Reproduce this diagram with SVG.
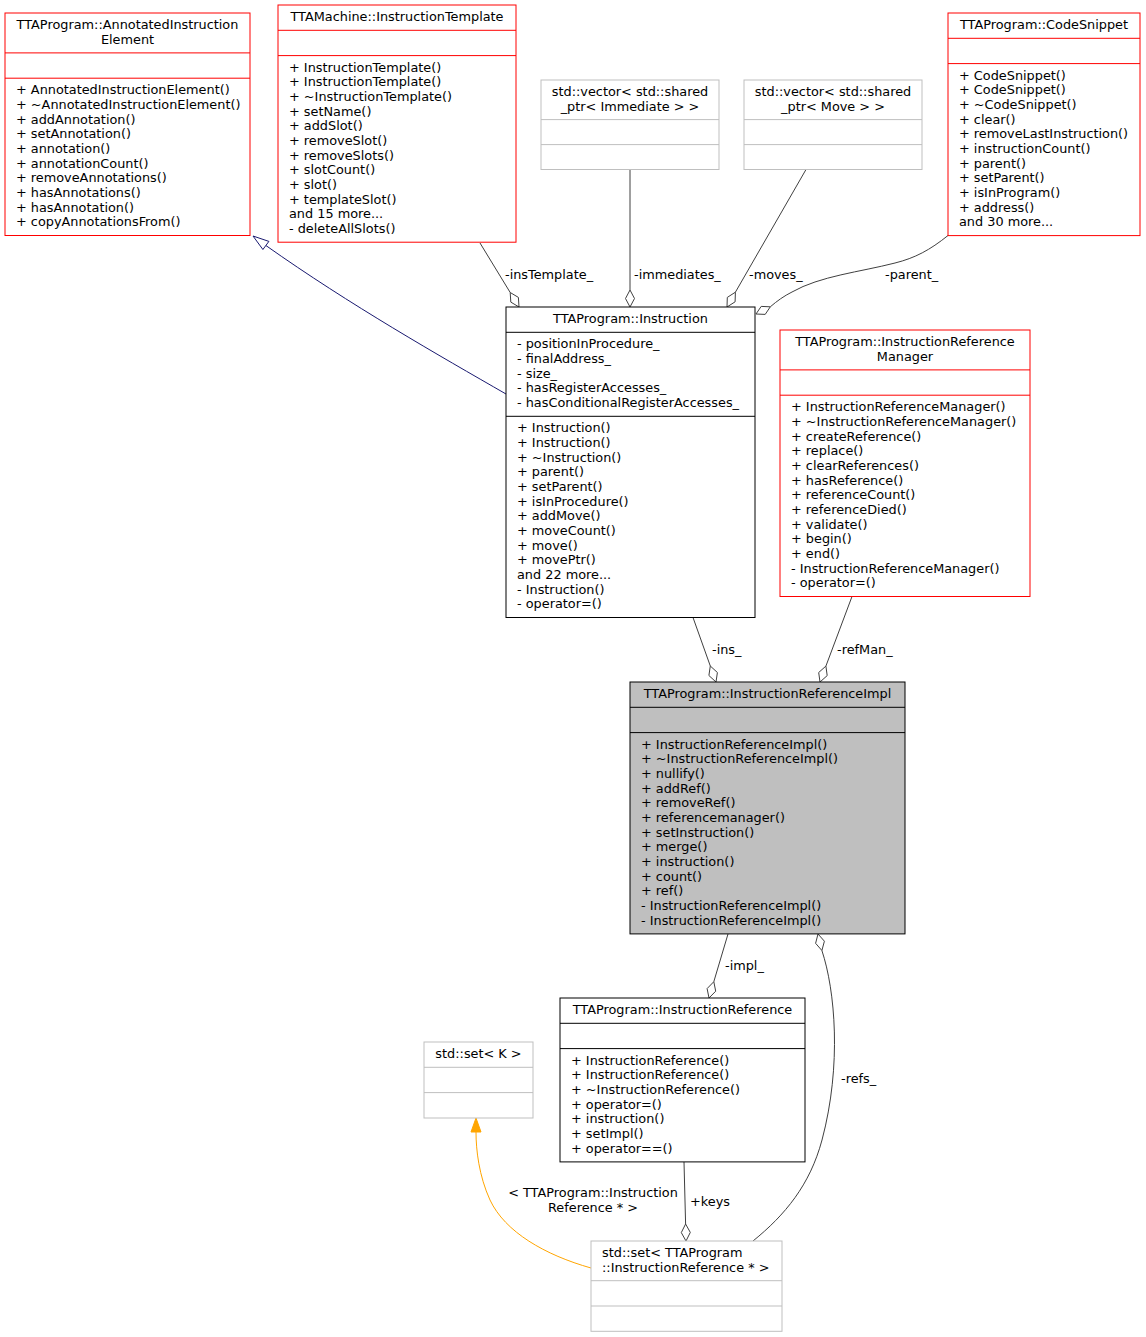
<svg xmlns="http://www.w3.org/2000/svg" width="1146" height="1337" viewBox="0 0 1146 1337">
<style>
text{font-family:"DejaVu Sans","Liberation Sans",sans-serif;font-size:12.85px;fill:#000}
.c{text-anchor:middle}
.box{fill:#fff;stroke-width:1}
.red{stroke:#ff0000}
.blk{stroke:#000}
.gry{stroke:#bfbfbf}
.sel{fill:#bfbfbf;stroke:#000}
.e{fill:none;stroke:#404040;stroke-width:1}
.dia{fill:#fff;stroke:#404040;stroke-width:1}
.lbl{font-size:12.85px}
</style>
<rect width="1146" height="1337" fill="#fff"/>
<g id="connectors">
  <!-- inheritance -->
  <path d="M506,394 C440,356 350,305 265.9,245.5" fill="none" stroke="#191970"/>
  <polygon points="253,236 268.9,241.4 262.9,249.5" fill="#fff" stroke="#191970"/>
  <!-- insTemplate_ -->
  <path class="e" d="M480,243 L510.2,292.5"/>
  <polygon class="dia" points="519,307 510.8,302.1 510.2,292.5 518.4,297.4"/>
  <text x="505" y="278.6">-insTemplate_</text>
  <!-- immediates_ -->
  <path class="e" d="M630,169.5 L630,290"/>
  <polygon class="dia" points="630,307 625.5,298.5 630,290 634.5,298.5"/>
  <text x="634" y="278.6">-immediates_</text>
  <!-- moves_ -->
  <path class="e" d="M806,169.5 L735.4,292.2"/>
  <polygon class="dia" points="727,307 727.3,297.4 735.4,292.2 735.1,301.8"/>
  <text x="749" y="278.6">-moves_</text>
  <!-- parent_ -->
  <path class="e" d="M948,235.5 C930,250 915,258 895,263 C860,272 820,276 792,292 C784,296 777,301 770.3,306.8"/>
  <polygon class="dia" points="756,314 761.2,306.4 770.3,306.8 765.2,314.4"/>
  <text x="885" y="278.6">-parent_</text>
  <!-- ins_ -->
  <path class="e" d="M693,617.5 L710.3,666"/>
  <polygon class="dia" points="716,682 708.9,675.5 710.3,666 717.4,672.5"/>
  <text x="712" y="653.6">-ins_</text>
  <!-- refMan_ -->
  <path class="e" d="M852,596.5 L825.9,666.1"/>
  <polygon class="dia" points="820,682 818.7,672.5 825.9,666.1 827.2,675.6"/>
  <text x="837" y="653.6">-refMan_</text>
  <!-- impl_ -->
  <path class="e" d="M728,934 L713.8,981.7"/>
  <polygon class="dia" points="709,998 707.1,988.6 713.8,981.7 715.7,991.2"/>
  <text x="725" y="969.6">-impl_</text>
  <!-- refs_ -->
  <path class="e" d="M753,1241 C785,1215 810,1185 822,1140 C842,1065 835,990 821.9,950.5"/>
  <polygon class="dia" points="818,934 824.4,941.2 821.9,950.5 815.6,943.3"/>
  <text x="841" y="1082.6">-refs_</text>
  <!-- keys -->
  <path class="e" d="M684,1162 L685.6,1224"/>
  <polygon class="dia" points="686,1241 681.3,1232.6 685.6,1224 690.3,1232.4"/>
  <text x="690" y="1205.6">+keys</text>
  <!-- template instance -->
  <path d="M591,1268 C545,1255 505,1232 490,1200 C479,1176 476,1150 476,1132" fill="none" stroke="#ffa500"/>
  <polygon points="476,1118 481,1132 471,1132" fill="#ffa500" stroke="#ffa500"/>
  <text class="c" x="593" y="1197.4">&lt; TTAProgram::Instruction</text>
  <text class="c" x="593" y="1212">Reference * &gt;</text>
</g>
<g id="node_annotated">
  <rect class="box red" x="5" y="13" width="245" height="222.5"/>
  <line class="red" x1="5" y1="52.9" x2="250" y2="52.9" stroke="#ff0000"/>
  <line x1="5" y1="78.2" x2="250" y2="78.2" stroke="#ff0000"/>
  <text class="c" x="127.5" y="29">TTAProgram::AnnotatedInstruction</text>
  <text class="c" x="127.5" y="43.7">Element</text>
  <text x="16" y="94.2"><tspan x="16">+ AnnotatedInstructionElement()</tspan><tspan x="16" dy="14.67">+ ~AnnotatedInstructionElement()</tspan><tspan x="16" dy="14.67">+ addAnnotation()</tspan><tspan x="16" dy="14.67">+ setAnnotation()</tspan><tspan x="16" dy="14.67">+ annotation()</tspan><tspan x="16" dy="14.67">+ annotationCount()</tspan><tspan x="16" dy="14.67">+ removeAnnotations()</tspan><tspan x="16" dy="14.67">+ hasAnnotations()</tspan><tspan x="16" dy="14.67">+ hasAnnotation()</tspan><tspan x="16" dy="14.67">+ copyAnnotationsFrom()</tspan></text>
</g>
<g id="node_template">
  <rect class="box red" x="278" y="5" width="238" height="237.2"/>
  <line x1="278" y1="30.3" x2="516" y2="30.3" stroke="#ff0000"/>
  <line x1="278" y1="55.6" x2="516" y2="55.6" stroke="#ff0000"/>
  <text class="c" x="397" y="21.3">TTAMachine::InstructionTemplate</text>
  <text x="289" y="71.6"><tspan x="289">+ InstructionTemplate()</tspan><tspan x="289" dy="14.67">+ InstructionTemplate()</tspan><tspan x="289" dy="14.67">+ ~InstructionTemplate()</tspan><tspan x="289" dy="14.67">+ setName()</tspan><tspan x="289" dy="14.67">+ addSlot()</tspan><tspan x="289" dy="14.67">+ removeSlot()</tspan><tspan x="289" dy="14.67">+ removeSlots()</tspan><tspan x="289" dy="14.67">+ slotCount()</tspan><tspan x="289" dy="14.67">+ slot()</tspan><tspan x="289" dy="14.67">+ templateSlot()</tspan><tspan x="289" dy="14.67">and 15 more...</tspan><tspan x="289" dy="14.67">- deleteAllSlots()</tspan></text>
</g>
<g id="node_vec_immediate">
  <rect class="box gry" x="541" y="80" width="178" height="89.5"/>
  <line x1="541" y1="119.6" x2="719" y2="119.6" stroke="#bfbfbf"/>
  <line x1="541" y1="144.6" x2="719" y2="144.6" stroke="#bfbfbf"/>
  <text class="c" x="630" y="96">std::vector&lt; std::shared</text>
  <text class="c" x="630" y="110.7">_ptr&lt; Immediate &gt; &gt;</text>
</g>
<g id="node_vec_move">
  <rect class="box gry" x="744" y="80" width="178" height="89.5"/>
  <line x1="744" y1="119.6" x2="922" y2="119.6" stroke="#bfbfbf"/>
  <line x1="744" y1="144.6" x2="922" y2="144.6" stroke="#bfbfbf"/>
  <text class="c" x="833" y="96">std::vector&lt; std::shared</text>
  <text class="c" x="833" y="110.7">_ptr&lt; Move &gt; &gt;</text>
</g>
<g id="node_codesnippet">
  <rect class="box red" x="948" y="13" width="192" height="222.6"/>
  <line x1="948" y1="38.3" x2="1140" y2="38.3" stroke="#ff0000"/>
  <line x1="948" y1="63.6" x2="1140" y2="63.6" stroke="#ff0000"/>
  <text class="c" x="1044" y="29.3">TTAProgram::CodeSnippet</text>
  <text x="959" y="79.6"><tspan x="959">+ CodeSnippet()</tspan><tspan x="959" dy="14.67">+ CodeSnippet()</tspan><tspan x="959" dy="14.67">+ ~CodeSnippet()</tspan><tspan x="959" dy="14.67">+ clear()</tspan><tspan x="959" dy="14.67">+ removeLastInstruction()</tspan><tspan x="959" dy="14.67">+ instructionCount()</tspan><tspan x="959" dy="14.67">+ parent()</tspan><tspan x="959" dy="14.67">+ setParent()</tspan><tspan x="959" dy="14.67">+ isInProgram()</tspan><tspan x="959" dy="14.67">+ address()</tspan><tspan x="959" dy="14.67">and 30 more...</tspan></text>
</g>
<g id="node_instruction">
  <rect class="box blk" x="506" y="307" width="249" height="310.5"/>
  <line x1="506" y1="332.3" x2="755" y2="332.3" stroke="#000"/>
  <line x1="506" y1="416.3" x2="755" y2="416.3" stroke="#000"/>
  <text class="c" x="630.5" y="323.3">TTAProgram::Instruction</text>
  <text x="517" y="348.3"><tspan x="517">- positionInProcedure_</tspan><tspan x="517" dy="14.67">- finalAddress_</tspan><tspan x="517" dy="14.67">- size_</tspan><tspan x="517" dy="14.67">- hasRegisterAccesses_</tspan><tspan x="517" dy="14.67">- hasConditionalRegisterAccesses_</tspan></text>
  <text x="517" y="432.2"><tspan x="517">+ Instruction()</tspan><tspan x="517" dy="14.67">+ Instruction()</tspan><tspan x="517" dy="14.67">+ ~Instruction()</tspan><tspan x="517" dy="14.67">+ parent()</tspan><tspan x="517" dy="14.67">+ setParent()</tspan><tspan x="517" dy="14.67">+ isInProcedure()</tspan><tspan x="517" dy="14.67">+ addMove()</tspan><tspan x="517" dy="14.67">+ moveCount()</tspan><tspan x="517" dy="14.67">+ move()</tspan><tspan x="517" dy="14.67">+ movePtr()</tspan><tspan x="517" dy="14.67">and 22 more...</tspan><tspan x="517" dy="14.67">- Instruction()</tspan><tspan x="517" dy="14.67">- operator=()</tspan></text>
</g>
<g id="node_manager">
  <rect class="box red" x="780" y="330" width="250" height="266.5"/>
  <line x1="780" y1="369.9" x2="1030" y2="369.9" stroke="#ff0000"/>
  <line x1="780" y1="395.2" x2="1030" y2="395.2" stroke="#ff0000"/>
  <text class="c" x="905" y="346">TTAProgram::InstructionReference</text>
  <text class="c" x="905" y="360.7">Manager</text>
  <text x="791" y="411.2"><tspan x="791">+ InstructionReferenceManager()</tspan><tspan x="791" dy="14.67">+ ~InstructionReferenceManager()</tspan><tspan x="791" dy="14.67">+ createReference()</tspan><tspan x="791" dy="14.67">+ replace()</tspan><tspan x="791" dy="14.67">+ clearReferences()</tspan><tspan x="791" dy="14.67">+ hasReference()</tspan><tspan x="791" dy="14.67">+ referenceCount()</tspan><tspan x="791" dy="14.67">+ referenceDied()</tspan><tspan x="791" dy="14.67">+ validate()</tspan><tspan x="791" dy="14.67">+ begin()</tspan><tspan x="791" dy="14.67">+ end()</tspan><tspan x="791" dy="14.67">- InstructionReferenceManager()</tspan><tspan x="791" dy="14.67">- operator=()</tspan></text>
</g>
<g id="node_impl">
  <rect class="sel" x="630" y="682" width="275" height="251.9"/>
  <line x1="630" y1="707.3" x2="905" y2="707.3" stroke="#000"/>
  <line x1="630" y1="732.6" x2="905" y2="732.6" stroke="#000"/>
  <text class="c" x="767.5" y="698.3">TTAProgram::InstructionReferenceImpl</text>
  <text x="641" y="748.6"><tspan x="641">+ InstructionReferenceImpl()</tspan><tspan x="641" dy="14.67">+ ~InstructionReferenceImpl()</tspan><tspan x="641" dy="14.67">+ nullify()</tspan><tspan x="641" dy="14.67">+ addRef()</tspan><tspan x="641" dy="14.67">+ removeRef()</tspan><tspan x="641" dy="14.67">+ referencemanager()</tspan><tspan x="641" dy="14.67">+ setInstruction()</tspan><tspan x="641" dy="14.67">+ merge()</tspan><tspan x="641" dy="14.67">+ instruction()</tspan><tspan x="641" dy="14.67">+ count()</tspan><tspan x="641" dy="14.67">+ ref()</tspan><tspan x="641" dy="14.67">- InstructionReferenceImpl()</tspan><tspan x="641" dy="14.67">- InstructionReferenceImpl()</tspan></text>
</g>
<g id="node_instrref">
  <rect class="box blk" x="560" y="998" width="245" height="163.9"/>
  <line x1="560" y1="1023.3" x2="805" y2="1023.3" stroke="#000"/>
  <line x1="560" y1="1048.6" x2="805" y2="1048.6" stroke="#000"/>
  <text class="c" x="682.5" y="1014.3">TTAProgram::InstructionReference</text>
  <text x="571" y="1064.6"><tspan x="571">+ InstructionReference()</tspan><tspan x="571" dy="14.67">+ InstructionReference()</tspan><tspan x="571" dy="14.67">+ ~InstructionReference()</tspan><tspan x="571" dy="14.67">+ operator=()</tspan><tspan x="571" dy="14.67">+ instruction()</tspan><tspan x="571" dy="14.67">+ setImpl()</tspan><tspan x="571" dy="14.67">+ operator==()</tspan></text>
</g>
<g id="node_setK">
  <rect class="box gry" x="424" y="1042" width="109" height="76"/>
  <line x1="424" y1="1067.3" x2="533" y2="1067.3" stroke="#bfbfbf"/>
  <line x1="424" y1="1092.6" x2="533" y2="1092.6" stroke="#bfbfbf"/>
  <text class="c" x="478.5" y="1058.3">std::set&lt; K &gt;</text>
</g>
<g id="node_setRef">
  <rect class="box gry" x="591" y="1241" width="191" height="90.3"/>
  <line x1="591" y1="1280.7" x2="782" y2="1280.7" stroke="#bfbfbf"/>
  <line x1="591" y1="1306" x2="782" y2="1306" stroke="#bfbfbf"/>
  <text x="602" y="1257">std::set&lt; TTAProgram</text>
  <text x="602" y="1271.7">::InstructionReference * &gt;</text>
</g>
</svg>
